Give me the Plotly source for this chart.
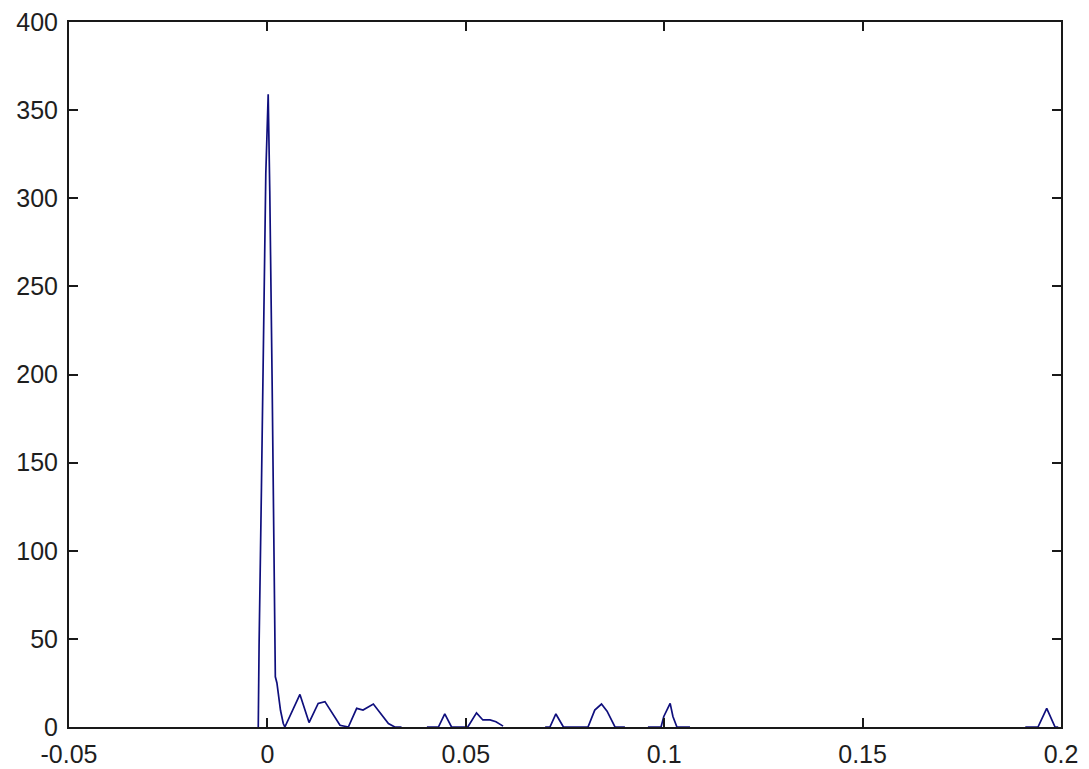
import plotly.graph_objects as go

# Data (None = gap in the line)
x_vals = [
    -0.0023, -0.0021, -0.0015, -0.0010, -0.0004, 0.0002, 0.0006, 0.0012, 0.0017,
    0.0020, 0.0024, 0.0028, 0.0033, 0.0040, 0.0044, 0.0082, 0.0105, 0.0128,
    0.0145, 0.0183, 0.0204, 0.0225, 0.0241, 0.0267, 0.0305, 0.0321, 0.0338,
    None,
    0.0402, 0.0431, 0.0447, 0.0464, 0.0505, 0.0527, 0.0543, 0.0561, 0.0576, 0.0594,
    None,
    0.0700, 0.0712, 0.0727, 0.0746, 0.0808, 0.0825, 0.0842, 0.0856, 0.0876, 0.0901,
    None,
    0.0959, 0.0992, 0.0999, 0.1015, 0.1022, 0.1032, 0.1065,
    None,
    0.1910, 0.1942, 0.1964, 0.1985, 0.1993,
]
y_vals = [
    0, 46, 136, 224, 314, 359, 304, 194, 86,
    28.5, 25, 17, 9.5, 2, 0, 18.5, 2.5, 13.4,
    14.4, 1, 0, 10.6, 9.6, 13, 2, 0, 0,
    None,
    0, 0, 7.4, 0, 0, 8, 4, 4, 3, 0.5,
    None,
    0, 0, 7.4, 0, 0, 9.6, 13, 9, 0, 0,
    None,
    0, 0, 6, 13.4, 6, 0, 0,
    None,
    0, 0, 10.6, 0, 0,
]

x_ticks = [-0.05, 0, 0.05, 0.1, 0.15, 0.2]
x_tick_labels = ["-0.05", "0", "0.05", "0.1", "0.15", "0.2"]
y_ticks = [0, 50, 100, 150, 200, 250, 300, 350, 400]
y_tick_labels = ["0", "50", "100", "150", "200", "250", "300", "350", "400"]

fig = go.Figure()
fig.add_trace(go.Scatter(
    x=x_vals, y=y_vals, mode="lines",
    line=dict(color="rgb(15,15,125)", width=1.7),
    connectgaps=False, showlegend=False,
))

axis_common = dict(
    showgrid=False, zeroline=False, automargin=False,
    showline=True, linecolor="rgb(25,25,25)", linewidth=2,
    mirror="ticks", ticks="inside", ticklen=9, tickwidth=1.5,
    tickcolor="rgb(25,25,25)",
    tickfont=dict(family="Liberation Sans, Arial, sans-serif", size=25,
                  color="rgb(30,30,30)"),
)

fig.update_xaxes(range=[-0.05, 0.2], tickvals=x_ticks, ticktext=x_tick_labels,
                 ticklabelstandoff=4, **axis_common)
fig.update_yaxes(range=[0, 400], tickvals=y_ticks, ticktext=y_tick_labels,
                 ticklabelstandoff=4, **axis_common)

fig.update_layout(
    width=1089, height=769, autosize=False,
    margin=dict(l=69, r=28, t=22, b=42, pad=0),
    paper_bgcolor="white", plot_bgcolor="white",
)

fig.write_html(
    "out.html",
    config={"displayModeBar": False},
    post_script="document.body.style.margin='0';document.body.style.overflow='hidden';",
)
